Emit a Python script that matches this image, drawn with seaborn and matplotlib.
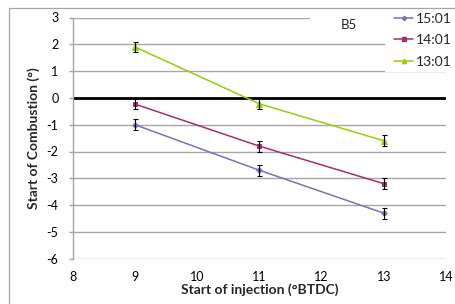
import numpy as np
import pandas as pd
import matplotlib
matplotlib.use("Agg")
import matplotlib.pyplot as plt
from matplotlib.patches import Rectangle
from matplotlib.lines import Line2D
import seaborn as sns

# ---- data ----
injection = [9, 11, 13]
soc_1501 = [-1.0, -2.7, -4.3]
soc_1401 = [-0.23, -1.8, -3.2]
soc_1301 = [1.9, -0.22, -1.6]
err = [0.2, 0.2, 0.2]
series_names = ["15:01", "14:01", "13:01"]
x_ticks = [8, 9, 10, 11, 12, 13, 14]
y_ticks = [3, 2, 1, 0, -1, -2, -3, -4, -5, -6]

colors = {"15:01": "#7474B6", "14:01": "#A3306A", "13:01": "#9ACD0A"}
markers = {"15:01": "D", "14:01": "s", "13:01": "^"}
msizes = {"15:01": 2.8, "14:01": 3.2, "13:01": 3.8}

df = pd.DataFrame({
    "inj": injection * 3,
    "soc": soc_1501 + soc_1401 + soc_1301,
    "series": sum([[n] * 3 for n in series_names], []),
})

sns.set_theme(style="white")
plt.rcParams["font.family"] = ["Lato", "DejaVu Sans"]

W, H = 456, 304
fig = plt.figure(figsize=(W / 100, H / 100), dpi=100)
x0, x1, yt, yb = 72.7, 446.0, 17.5, 258.7
ax = fig.add_axes([x0 / W, 1 - yb / H, (x1 - x0) / W, (yb - yt) / H])

for name in series_names:
    sub = df[df.series == name]
    sns.lineplot(data=sub, x="inj", y="soc", ax=ax, color=colors[name],
                 marker=markers[name], markersize=msizes[name],
                 markeredgecolor=colors[name], linewidth=1.1, zorder=3,
                 label=None, legend=False)
    ax.errorbar(sub.inj, sub.soc, yerr=err, fmt="none", ecolor="black",
                elinewidth=0.8, capsize=1.8, capthick=0.8, zorder=4)

ax.axhline(0, color="black", lw=2.0, zorder=2)

ax.set_xlim(8, 14)
ax.set_ylim(-6, 3)
ax.set_xticks(x_ticks)
ax.set_yticks(y_ticks)
ax.set_xticklabels([str(t) for t in x_ticks], fontsize=9)
ax.set_yticklabels([str(t) for t in y_ticks], fontsize=9)
ax.yaxis.grid(True, color="#A6A6A6", lw=1.0)
ax.set_axisbelow(True)
for s in ["top", "right", "bottom"]:
    ax.spines[s].set_visible(False)
ax.spines["left"].set_color("#A6A6A6")
ax.spines["left"].set_linewidth(1.0)
ax.tick_params(axis="y", which="major", length=3.2, color="#A6A6A6", width=1.0,
               pad=7, labelcolor="black", left=True)
ax.tick_params(axis="x", which="major", length=0, pad=9, labelcolor="black")
ax.set_xlabel("Start of injection (°BTDC)", fontsize=10, fontweight="bold", labelpad=0)
ax.set_ylabel("Start of Combustion (°)", fontsize=10, fontweight="bold", labelpad=5)

# white boxes masking gridlines behind the text and legend
def fig_rect(px0, py0, px1, py1):
    return Rectangle((px0 / W, 1 - py1 / H), (px1 - px0) / W, (py1 - py0) / H,
                     transform=fig.transFigure, facecolor="white", edgecolor="none",
                     zorder=5, clip_on=False)

ax.add_patch(fig_rect(310, 9, 385, 34))
ax.add_patch(fig_rect(385, 9, 456, 72))
ax.text(349 / W, 1 - 25 / H, "B5", transform=fig.transFigure, fontsize=9.5,
        ha="center", va="center", zorder=6)

handles = [Line2D([0], [0], color=colors[n], marker=markers[n],
                  markersize=msizes[n] * 0.8, lw=1.1) for n in series_names]
leg = fig.legend(handles, series_names, loc="upper left",
                 bbox_to_anchor=(394 / W, 1 - 13 / H), frameon=False,
                 fontsize=10, handlelength=1.4, handletextpad=0.2,
                 labelspacing=0.67, borderpad=0, borderaxespad=0)
leg.set_zorder(7)

# outer chart border
fig.patches.append(Rectangle((9.3 / W, -0.01), 1.0, 1 - 8 / H + 0.01,
                             transform=fig.transFigure, facecolor="none",
                             edgecolor="#A6A6A6", lw=0.9, zorder=0))

fig.savefig("out.png", dpi=100)
